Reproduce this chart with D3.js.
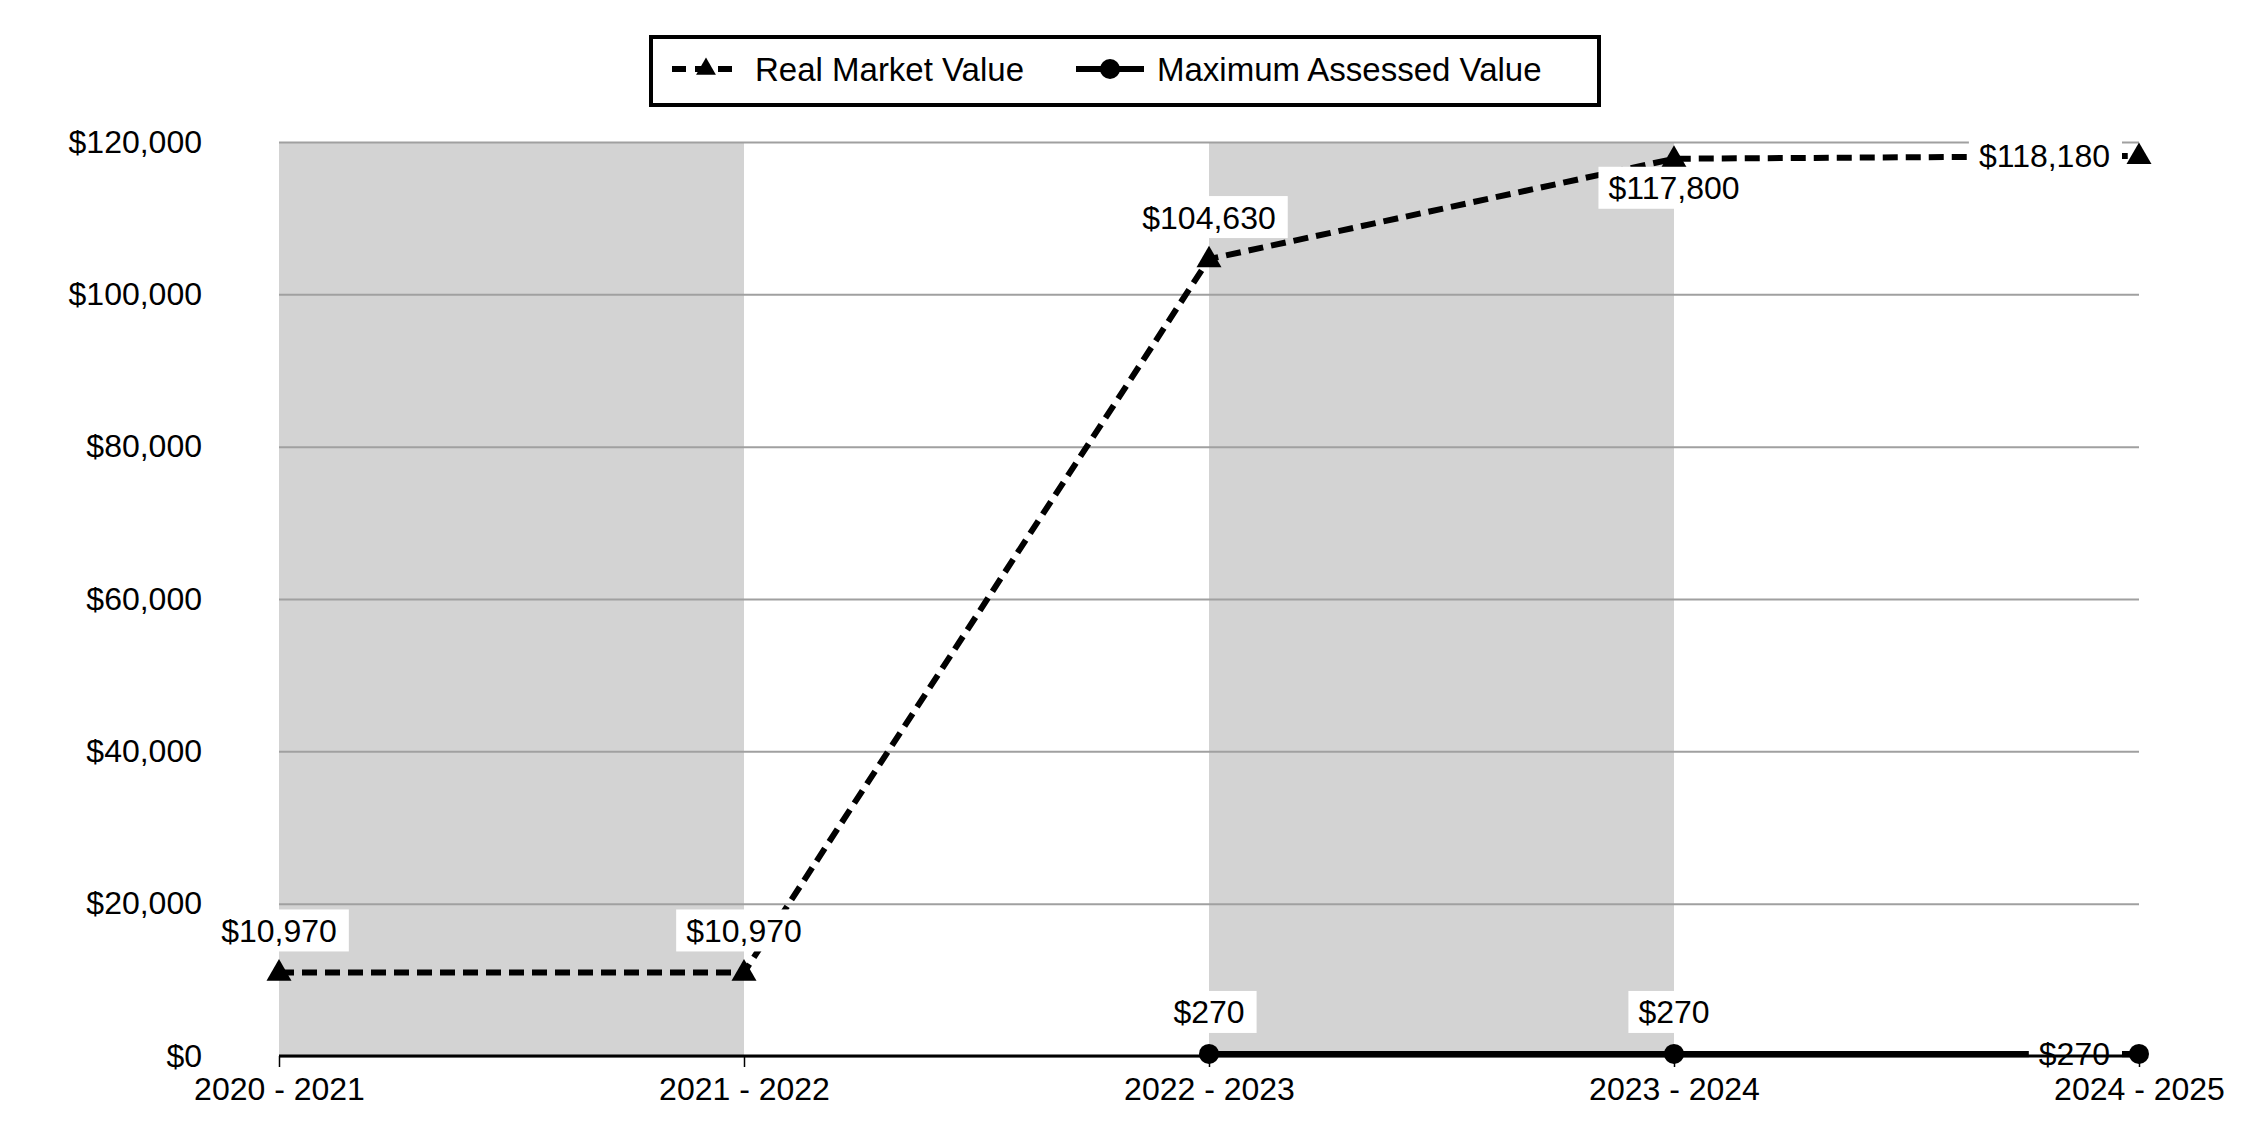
<!DOCTYPE html>
<html>
<head>
<meta charset="utf-8">
<script src="https://cdn.jsdelivr.net/npm/d3@7"></script>
<style>
  html, body { margin: 0; padding: 0; background: #fff; }
  svg { display: block; }
  text { font-family: Arial, "Liberation Sans", sans-serif; fill: #000; }
</style>
</head>
<body>
<script>
const categories = ["2020 - 2021", "2021 - 2022", "2022 - 2023", "2023 - 2024", "2024 - 2025"];
const realMarketValue = [10970, 10970, 104630, 117800, 118180];
const maxAssessedValue = [null, null, 270, 270, 270];
const yTicks = [0, 20000, 40000, 60000, 80000, 100000, 120000];
const rmvLabelPlacement = ["above", "above", "above", "below", "left"];
const mavLabelPlacement = [null, null, "above", "above", "left"];
const shadedBands = [[0, 1], [2, 3]];

const W = 2250, H = 1140;
const margin = { left: 279, right: 111, top: 142, bottom: 84 };
const FS = 32;

const svg = d3.select("body").append("svg").attr("width", W).attr("height", H);

const x = d3.scalePoint().domain(categories).range([margin.left, W - margin.right]);
const y = d3.scaleLinear().domain([0, 120000]).range([H - margin.bottom, margin.top]);

const fmt = v => "$" + d3.format(",")(v);

// shaded bands
svg.append("g").selectAll("rect").data(shadedBands).join("rect")
  .attr("x", d => x(categories[d[0]]))
  .attr("width", d => x(categories[d[1]]) - x(categories[d[0]]))
  .attr("y", y(120000))
  .attr("height", y(0) - y(120000))
  .attr("fill", "#d3d3d3");

// gridlines + y labels
const yAxis = d3.axisLeft(y).tickValues(yTicks).tickFormat(fmt)
  .tickSize(-(W - margin.right - margin.left)).tickPadding(77);
const gy = svg.append("g").attr("transform", `translate(${margin.left},0)`).call(yAxis);
gy.select(".domain").remove();
gy.selectAll(".tick line").attr("stroke", "#a0a0a0").attr("stroke-width", 2);
gy.selectAll(".tick text").attr("font-size", FS).attr("font-family", "Arial, 'Liberation Sans', sans-serif").attr("fill", "#000");

// lines
const rmvData = categories.map((c, i) => ({ c, v: realMarketValue[i], i }));
const mavData = categories.map((c, i) => ({ c, v: maxAssessedValue[i], i })).filter(d => d.v != null);

const line = d3.line().x(d => x(d.c)).y(d => y(d.v));

svg.append("path").datum(mavData).attr("d", line)
  .attr("fill", "none").attr("stroke", "#000").attr("stroke-width", 6);
svg.append("path").datum(rmvData).attr("d", line)
  .attr("fill", "none").attr("stroke", "#000").attr("stroke-width", 6)
  .attr("stroke-dasharray", "15,8");

// markers
const tri = d3.symbol().type(d3.symbolTriangle).size(270);
svg.append("g").selectAll("path").data(rmvData).join("path")
  .attr("d", tri).attr("transform", d => `translate(${x(d.c)},${y(d.v) + 1})`).attr("fill", "#000");
svg.append("g").selectAll("circle").data(mavData).join("circle")
  .attr("cx", d => x(d.c)).attr("cy", d => y(d.v)).attr("r", 10).attr("fill", "#000");

// data labels
function addLabels(data, placements) {
  const g = svg.append("g");
  data.forEach(d => {
    const p = placements[d.i];
    if (!p) return;
    const px = x(d.c), py = y(d.v);
    let tx = px, ty = py, anchor = "middle";
    if (p === "above") ty = py - 42;
    else if (p === "below") ty = py + 29;
    else if (p === "left") { tx = px - 29; anchor = "end"; }
    const t = g.append("text").attr("x", tx).attr("y", ty).attr("dy", "0.36em")
      .attr("text-anchor", anchor).attr("font-size", FS).text(fmt(d.v));
    const bb = t.node().getBBox();
    g.insert("rect", "text").attr("x", bb.x - 10).attr("y", ty - 21)
      .attr("width", bb.width + 22).attr("height", 42).attr("fill", "#fff");
  });
}
addLabels(rmvData, rmvLabelPlacement);
addLabels(mavData, mavLabelPlacement);

// x axis
const xAxis = d3.axisBottom(x).tickSizeOuter(0).tickSize(11).tickPadding(10);
const gx = svg.append("g").attr("transform", `translate(0,${y(0)})`).call(xAxis);
gx.select(".domain").attr("stroke", "#000").attr("stroke-width", 3)
  .attr("d", `M${margin.left},0H${W - margin.right}`);
gx.selectAll(".tick line").attr("stroke", "#000").attr("stroke-width", 1.5);
gx.selectAll(".tick text").attr("font-size", FS).attr("font-family", "Arial, 'Liberation Sans', sans-serif").attr("fill", "#000");

// legend
const lg = svg.append("g");
lg.append("rect").attr("x", 651).attr("y", 37).attr("width", 948).attr("height", 68)
  .attr("fill", "#fff").attr("stroke", "#000").attr("stroke-width", 4);
const ly = 69;
lg.append("line").attr("x1", 672).attr("x2", 740).attr("y1", ly).attr("y2", ly)
  .attr("stroke", "#000").attr("stroke-width", 6).attr("stroke-dasharray", "14,9");
lg.append("path").attr("d", d3.symbol().type(d3.symbolTriangle).size(170))
  .attr("transform", `translate(706,${ly})`).attr("fill", "#000");
lg.append("text").attr("x", 755).attr("y", ly).attr("dy", "0.36em").attr("font-size", 33).text("Real Market Value");
lg.append("line").attr("x1", 1076).attr("x2", 1144).attr("y1", ly).attr("y2", ly)
  .attr("stroke", "#000").attr("stroke-width", 6);
lg.append("circle").attr("cx", 1110).attr("cy", ly).attr("r", 10).attr("fill", "#000");
lg.append("text").attr("x", 1157).attr("y", ly).attr("dy", "0.36em").attr("font-size", 33).text("Maximum Assessed Value");
</script>
</body>
</html>
